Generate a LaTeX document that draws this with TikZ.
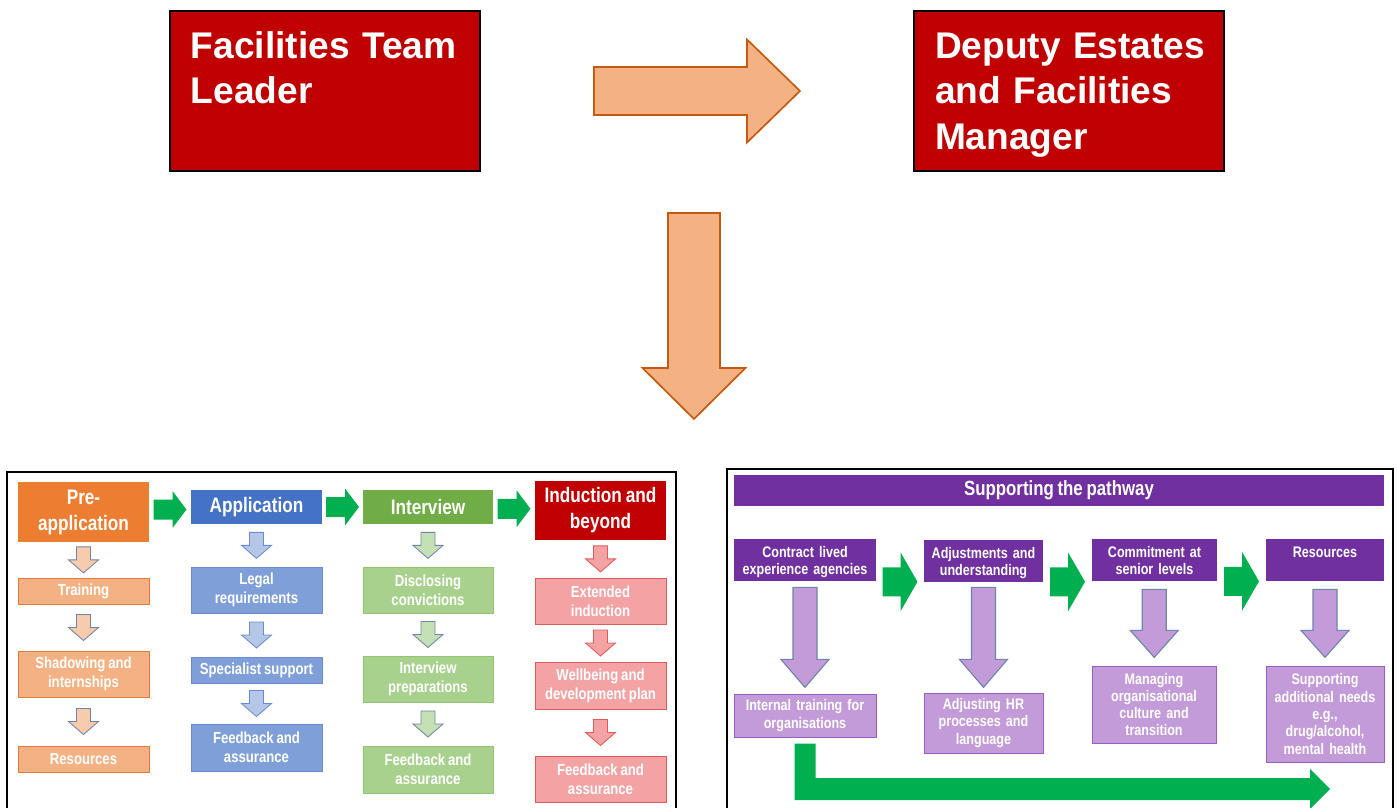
\documentclass[tikz,border=0pt]{standalone}
\usepackage{fontspec}
\setmainfont{Liberation Sans}
\newfontfamily\narrowsf{Liberation Sans}[FakeStretch=0.82, WordSpace=0.8]
\usepackage{tikz}
\usetikzlibrary{calc}

\definecolor{roleRed}{HTML}{C00000}
\definecolor{arrowPeach}{HTML}{F4B183}
\definecolor{arrowRust}{HTML}{C55A11}
\definecolor{stepGreen}{HTML}{00B050}
\definecolor{preOrange}{HTML}{ED7D31}
\definecolor{preLight}{HTML}{F4B183}
\definecolor{preEdge}{HTML}{E27A3A}
\definecolor{prePale}{HTML}{F8CBAD}
\definecolor{appBlue}{HTML}{4472C4}
\definecolor{appLight}{HTML}{7F9FD8}
\definecolor{appEdge}{HTML}{6A8CCF}
\definecolor{appPale}{HTML}{B4C7E7}
\definecolor{intGreen}{HTML}{70AD47}
\definecolor{intLight}{HTML}{A9D18E}
\definecolor{intEdge}{HTML}{92C474}
\definecolor{intPale}{HTML}{C5E0B4}
\definecolor{indLight}{HTML}{F3A3A3}
\definecolor{indEdge}{HTML}{E05A5A}
\definecolor{supPurple}{HTML}{7030A0}
\definecolor{supLight}{HTML}{C39BD8}
\definecolor{supEdge}{HTML}{9B5CC4}
\definecolor{slateEdge}{HTML}{6F84AA}

\tikzstyle{rolebox} = [rectangle, draw=black, line width=1pt, fill=roleRed, text=white, minimum width=77.5mm, minimum height=40mm, inner xsep=5.25mm, inner ysep=0pt, text width=67mm, align=left, text height=11.75mm, text depth=28.25mm, font=\bfseries\fontsize{26.4}{32.7}\selectfont]
\tikzstyle{bigarrow} = [fill=arrowPeach, draw=arrowRust, line width=1.2pt]
\tikzstyle{panel} = [draw=black, line width=1.4pt]
\tikzstyle{stage} = [rectangle, text=white, inner sep=0pt, align=center, minimum width=32.75mm, font=\narrowsf\bfseries\fontsize{14.9}{18.5}\selectfont]
\tikzstyle{substep} = [rectangle, text=white, inner sep=0pt, align=center, line width=0.7pt, minimum width=32.75mm, font=\narrowsf\bfseries\fontsize{11.4}{13.3}\selectfont]
\tikzstyle{presub} = [substep, fill=preLight, draw=preEdge]
\tikzstyle{appsub} = [substep, fill=appLight, draw=appEdge]
\tikzstyle{intsub} = [substep, fill=intLight, draw=intEdge]
\tikzstyle{indsub} = [substep, fill=indLight, draw=indEdge]
\tikzstyle{smallarrow} = [line width=0.6pt]
\tikzstyle{flowarrow} = [fill=stepGreen]
\tikzstyle{bigdown} = [fill=supLight, draw=slateEdge, line width=0.8pt]
\tikzstyle{suptitle} = [rectangle, fill=supPurple, text=white, inner sep=0pt, minimum width=162.5mm, minimum height=7.75mm, font=\narrowsf\bfseries\fontsize{14.6}{17}\selectfont]
\tikzstyle{suphead} = [rectangle, fill=supPurple, text=white, inner sep=0pt, align=center, text height=4.5mm, text depth=6mm, font=\narrowsf\bfseries\fontsize{10.9}{12.3}\selectfont]
\tikzstyle{supstep} = [rectangle, fill=supLight, draw=supEdge, line width=0.7pt, text=white, inner sep=0pt, align=center, font=\narrowsf\bfseries\fontsize{10.9}{12.3}\selectfont]

% block arrow pointing down, centred between two points
% #1 style, #2 upper point, #3 lower point, #4 length, #5 half shaft, #6 half head, #7 head length
\newcommand{\downblock}[7]{%
  \path[#1] let \p1=($#2!0.5!#3$) in
    (\x1-#5,\y1+#4/2) -- (\x1+#5,\y1+#4/2) -- (\x1+#5,\y1-#4/2+#7)
    -- (\x1+#6,\y1-#4/2+#7) -- (\x1,\y1-#4/2) -- (\x1-#6,\y1-#4/2+#7)
    -- (\x1-#5,\y1-#4/2+#7) -- cycle;}
% same, pointing right
\newcommand{\rightblock}[7]{%
  \path[#1] let \p1=($#2!0.5!#3$) in
    (\x1-#4/2,\y1+#5) -- (\x1+#4/2-#7,\y1+#5) -- (\x1+#4/2-#7,\y1+#6)
    -- (\x1+#4/2,\y1) -- (\x1+#4/2-#7,\y1-#6) -- (\x1+#4/2-#7,\y1-#5)
    -- (\x1-#4/2,\y1-#5) -- cycle;}

\begin{document}
\begin{tikzpicture}[x=0.25mm, y=-0.25mm]
\useasboundingbox (0,0) rectangle (1397,807);
\clip (0,0) rectangle (1397,807);

% roles
\node[rolebox] (fac) at (325,91) {\mbox{Facilities Team}\\Leader};
\node[rolebox] (dep) at (1069,91) {\mbox{Deputy Estates}\\\mbox{and Facilities}\\Manager};
\coordinate (dstart) at (694,213);
\coordinate (dend) at (694,419);
\rightblock{bigarrow}{(fac.east)}{(dep.west)}{51.5mm}{6mm}{12.875mm}{13.25mm}
\downblock{bigarrow}{(dstart)}{(dend)}{51.5mm}{6.5mm}{12.875mm}{12.75mm}

% frames
\draw[panel] (7,472) rectangle (676,815);
\draw[panel] (727,469) rectangle (1393,815);

% recruitment stages
\node[stage, fill=preOrange, minimum height=15mm] (pre) at (83.5,512) {Pre-\\application};
\node[stage, fill=appBlue, minimum height=8.5mm] (app) at (256.5,507) {Application};
\node[stage, fill=intGreen, minimum width=32.5mm, minimum height=8.5mm] (intv) at (428,507) {Interview};
\node[stage, fill=roleRed, minimum height=14.75mm] (induct) at (600.5,510.5) {Induction and\\beyond};

\node[presub, minimum height=6.5mm] (train) at (83.5,591) {Training};
\node[presub, minimum height=11.5mm] (shadow) at (83.5,674) {Shadowing and\\internships};
\node[presub, minimum height=6.5mm] (preres) at (83.5,759) {Resources};

\node[appsub, minimum height=11.5mm] (legal) at (256.5,590) {Legal\\requirements};
\node[appsub, minimum height=6.5mm] (spec) at (256.5,670) {Specialist support};
\node[appsub, minimum height=11.75mm] (appfb) at (256.5,747.5) {Feedback and\\assurance};

\node[intsub, minimum width=32.5mm, minimum height=11.5mm] (discl) at (428,590) {Disclosing\\convictions};
\node[intsub, minimum width=32.5mm, minimum height=11.5mm] (intprep) at (428,679) {Interview\\preparations};
\node[intsub, minimum width=32.5mm, minimum height=11.75mm] (intfb) at (428,769.5) {Feedback and\\assurance};

\node[indsub, minimum height=11.5mm] (extind) at (600.5,601) {Extended\\induction};
\node[indsub, minimum height=11.75mm] (wellb) at (600.5,685.5) {Wellbeing and\\development plan};
\node[indsub, minimum height=11.5mm] (indfb) at (600.5,779) {Feedback and\\assurance};

\rightblock{flowarrow}{(pre.east)}{(app.west)}{8.25mm}{2.5mm}{4.625mm}{3.5mm}
\rightblock{flowarrow}{(app.east)}{(intv.west)}{8.25mm}{2.5mm}{4.625mm}{3.5mm}
\rightblock{flowarrow}{(intv.east)}{(induct.west)}{8.25mm}{2.5mm}{4.625mm}{3.5mm}

\downblock{smallarrow, fill=prePale, draw=slateEdge}{(pre.south)}{(train.north)}{6.5mm}{1.75mm}{3.75mm}{3.25mm}
\downblock{smallarrow, fill=prePale, draw=slateEdge}{(train.south)}{(shadow.north)}{6.5mm}{1.75mm}{3.75mm}{3.25mm}
\downblock{smallarrow, fill=prePale, draw=slateEdge}{(shadow.south)}{(preres.north)}{6.5mm}{1.75mm}{3.75mm}{3.25mm}
\downblock{smallarrow, fill=appPale, draw=appEdge}{(app.south)}{(legal.north)}{6.5mm}{1.75mm}{3.75mm}{3.25mm}
\downblock{smallarrow, fill=appPale, draw=appEdge}{(legal.south)}{(spec.north)}{6.5mm}{1.75mm}{3.75mm}{3.25mm}
\downblock{smallarrow, fill=appPale, draw=appEdge}{(spec.south)}{(appfb.north)}{6.5mm}{1.75mm}{3.75mm}{3.25mm}
\downblock{smallarrow, fill=intPale, draw=slateEdge}{(intv.south)}{(discl.north)}{6.5mm}{1.75mm}{3.75mm}{3.25mm}
\downblock{smallarrow, fill=intPale, draw=slateEdge}{(discl.south)}{(intprep.north)}{6.5mm}{1.75mm}{3.75mm}{3.25mm}
\downblock{smallarrow, fill=intPale, draw=slateEdge}{(intprep.south)}{(intfb.north)}{6.5mm}{1.75mm}{3.75mm}{3.25mm}
\downblock{smallarrow, fill=indLight, draw=indEdge}{(induct.south)}{(extind.north)}{6.5mm}{1.75mm}{3.75mm}{3.25mm}
\downblock{smallarrow, fill=indLight, draw=indEdge}{(extind.south)}{(wellb.north)}{6.5mm}{1.75mm}{3.75mm}{3.25mm}
\downblock{smallarrow, fill=indLight, draw=indEdge}{(wellb.south)}{(indfb.north)}{6.5mm}{1.75mm}{3.75mm}{3.25mm}

% support pathway
\node[suptitle] (title) at (1059,490.5) {Supporting the pathway};
\node[suphead, text width=35.5mm] (contract) at (805,560) {Contract lived\\experience agencies};
\node[suphead, text width=29.75mm] (adj) at (983.5,561) {Adjustments and\\understanding};
\node[suphead, text width=31.25mm] (commit) at (1154.5,560) {Commitment at\\senior levels};
\node[suphead, text width=29.5mm] (res) at (1325,560) {Resources};

\node[supstep, text width=35.5mm, minimum height=10.75mm] (intrain) at (805,715.5) {Internal training for\\organisations};
\node[supstep, text width=29.75mm, minimum height=15mm] (adjhr) at (983.5,723) {Adjusting HR\\processes and\\language};
\node[supstep, text width=31mm, minimum height=19.25mm] (manage) at (1154,704.5) {Managing\\organisational\\culture and\\transition};
\node[supstep, text width=29.5mm, minimum height=24mm] (supneeds) at (1325,714) {Supporting\\additional needs\\e.g.,\\drug/alcohol,\\mental health};

\rightblock{flowarrow}{(contract.south east)}{(adj.south west)}{8.75mm}{3.625mm}{7.375mm}{4.25mm}
\rightblock{flowarrow}{(adj.south east)}{(commit.south west)}{8.75mm}{3.625mm}{7.375mm}{4.25mm}
\rightblock{flowarrow}{(commit.south east)}{(res.south west)}{8.75mm}{3.625mm}{7.375mm}{4.25mm}

\downblock{bigdown}{(contract.south)}{(intrain.north)}{25mm}{3mm}{6mm}{7mm}
\downblock{bigdown}{(adj.south)}{(adjhr.north)}{25mm}{3mm}{6mm}{7mm}
\downblock{bigdown}{(commit.south)}{(manage.north)}{17mm}{3mm}{6mm}{6.75mm}
\downblock{bigdown}{(res.south)}{(supneeds.north)}{17mm}{3mm}{6mm}{6.75mm}

% return loop along the bottom
\coordinate (loopend) at (1330,789);
\path[flowarrow] let \p1=(intrain.south), \p2=(loopend) in
  (\x1-2.625mm,\y1-1.5mm) -- (\x1+2.625mm,\y1-1.5mm) -- (\x1+2.625mm,\y2+2.75mm)
  -- (\x2-5mm,\y2+2.75mm) -- (\x2-5mm,\y2+5mm) -- (\x2,\y2) -- (\x2-5mm,\y2-5mm)
  -- (\x2-5mm,\y2-2.75mm) -- (\x1-2.625mm,\y2-2.75mm) -- cycle;
\end{tikzpicture}
\end{document}
